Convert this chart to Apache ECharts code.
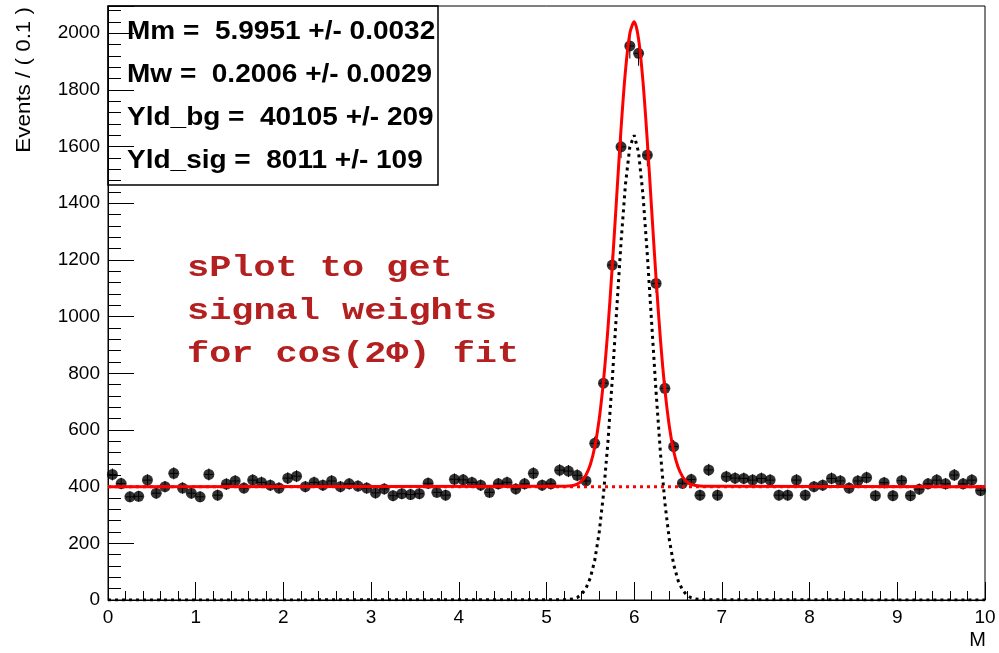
<!DOCTYPE html>
<html>
<head>
<meta charset="utf-8">
<script src="https://cdn.jsdelivr.net/npm/echarts@6/dist/echarts.min.js"></script>
<style>
  html, body { margin: 0; padding: 0; background: #fff; }
  #chart { width: 999px; height: 653px; }
</style>
</head>
<body>
<div id="chart"></div>
<script>
// Histogram of M: 100 bins of width 0.1 between 0 and 10
const xMin = 0;
const xMax = 10;
const binWidth = 0.1;
const counts = [
  443, 411, 364, 366, 423, 377, 400, 447, 395, 377,
  364, 443, 370, 409, 420, 395, 423, 415, 405, 395,
  430, 437, 400, 415, 405, 420, 400, 410, 402, 395,
  378, 392, 368, 375, 372, 375, 412, 380, 370, 426,
  424, 415, 405, 380, 410, 415, 392, 410, 447, 405,
  410, 458, 455, 440, 420, 553, 765, 1182, 1599, 1955,
  1929, 1570, 1117, 747, 541, 412, 425, 370, 459, 370,
  435, 430, 429, 423, 429, 423, 370, 370, 423, 370,
  400, 405, 429, 420, 395, 420, 432, 368, 414, 368,
  421, 368, 391, 410, 423, 410, 441, 410, 423, 386
];

// Fitted model read at sample points across the peak
const curveX = [
  5.20, 5.25, 5.30, 5.35, 5.40, 5.45, 5.50, 5.55, 5.60, 5.65,
  5.70, 5.75, 5.80, 5.85, 5.90, 5.95, 6.00, 6.05, 6.10, 6.15,
  6.20, 6.25, 6.30, 6.35, 6.40, 6.45, 6.50, 6.55, 6.60, 6.65,
  6.70, 6.75, 6.80
];
const signalCurve = [
  1, 2, 4, 9, 20, 41, 78, 140, 236, 374,
  556, 778, 1022, 1263, 1466, 1599, 1640, 1579, 1430, 1217,
  973, 731, 516, 343, 214, 125, 69, 36, 17, 8,
  4, 2, 1
];
const backgroundLevel = 400;

// Fit parameters shown in the box
const paramLines = [
  'Mm =  5.9951 +/- 0.0032',
  'Mw =  0.2006 +/- 0.0029',
  'Yld_bg =  40105 +/- 209',
  'Yld_sig =  8011 +/- 109'
];
const noteLines = ['sPlot to get', 'signal weights', 'for cos(2\u03A6) fit'];

const yMax = 2096;

// ---- derived series ----
const points = counts.map((c, i) => [+(xMin + (i + 0.5) * binWidth).toFixed(2), c, Math.sqrt(c)]);
const sigLine = [[xMin, 0]].concat(curveX.map((x, i) => [x, signalCurve[i]]), [[xMax, 0]]);
const totLine = [[xMin, backgroundLevel]].concat(
  curveX.map((x, i) => [x, backgroundLevel + signalCurve[i]]), [[xMax, backgroundLevel]]);
const bgLine = [[xMin, backgroundLevel], [xMax, backgroundLevel]];

const chart = echarts.init(document.getElementById('chart'), null, { renderer: 'canvas' });

const labelFont = { fontFamily: 'Liberation Sans', fontSize: 19, color: '#000', formatter: v => String(v) };

const graphics = [
  {
    type: 'rect', z: 100,
    shape: { x: 108, y: 6, width: 330, height: 179 },
    style: { fill: 'none', stroke: '#000', lineWidth: 1.5 }
  },
  {
    type: 'text', z: 100, x: 24, y: 7, rotation: Math.PI / 2, scaleX: 1.12,
    style: {
      text: 'Events / ( 0.1 )', x: 0, y: 0, align: 'right', verticalAlign: 'middle',
      font: '20px "Liberation Sans"', fill: '#000'
    }
  },
  {
    type: 'text', z: 100, x: 986, y: 640,
    style: {
      text: 'M', x: 0, y: 0, align: 'right', verticalAlign: 'middle',
      font: '20px "Liberation Sans"', fill: '#000'
    }
  }
];
paramLines.forEach((t, i) => {
  graphics.push({
    type: 'text', z: 101, x: 127, y: 32 + i * 43, scaleX: 1.12,
    style: {
      text: t, x: 0, y: 0, align: 'left', verticalAlign: 'middle',
      font: 'bold 25px "Liberation Sans"', fill: '#000'
    }
  });
});
noteLines.forEach((t, i) => {
  graphics.push({
    type: 'text', z: 101, x: 187, y: 268 + i * 43, scaleX: 1.23,
    style: {
      text: t, x: 0, y: 0, align: 'left', verticalAlign: 'middle',
      font: 'bold 30px "Liberation Mono"', fill: '#b42020'
    }
  });
});

chart.setOption({
  animation: false,
  backgroundColor: '#fff',
  grid: {
    left: 108, right: 14, top: 6, bottom: 53,
    show: true, borderColor: '#000', borderWidth: 1, backgroundColor: 'transparent'
  },
  xAxis: {
    type: 'value', min: xMin, max: xMax, interval: 1,
    axisLine: { show: true, lineStyle: { color: '#000', width: 1 } },
    axisTick: { show: true, inside: true, length: 18, lineStyle: { color: '#000' } },
    minorTick: { show: true, splitNumber: 5, length: 9, lineStyle: { color: '#000' } },
    axisLabel: Object.assign({ margin: 8 }, labelFont),
    splitLine: { show: false }
  },
  yAxis: {
    type: 'value', min: 0, max: yMax, interval: 200,
    axisLine: { show: true, lineStyle: { color: '#000', width: 1 } },
    axisTick: { show: true, inside: true, length: 26, lineStyle: { color: '#000' } },
    minorTick: { show: true, splitNumber: 5, length: 13, lineStyle: { color: '#000' } },
    axisLabel: Object.assign({ margin: 8, showMaxLabel: false }, labelFont),
    splitLine: { show: false }
  },
  graphic: graphics,
  series: [
    {
      type: 'custom', z: 2,
      data: points,
      renderItem: function (params, api) {
        const x = api.value(0), y = api.value(1), e = api.value(2);
        const top = api.coord([x, y + e]);
        const bot = api.coord([x, Math.max(0, y - e)]);
        const l = api.coord([x - binWidth / 2, y]);
        const r = api.coord([x + binWidth / 2, y]);
        return {
          type: 'group',
          children: [
            { type: 'line', shape: { x1: top[0], y1: top[1], x2: bot[0], y2: bot[1] }, style: { stroke: '#000', lineWidth: 1 } },
            { type: 'line', shape: { x1: l[0], y1: l[1], x2: r[0], y2: r[1] }, style: { stroke: '#000', lineWidth: 1 } }
          ]
        };
      }
    },
    {
      type: 'scatter', z: 3,
      data: points.map(p => [p[0], p[1]]),
      symbol: 'circle', symbolSize: 11,
      itemStyle: { color: '#000' }
    },
    {
      type: 'line', z: 4, data: bgLine, symbol: 'none',
      lineStyle: { color: '#ff0000', width: 3, type: [3, 4] }
    },
    {
      type: 'line', z: 4, data: sigLine, symbol: 'none',
      lineStyle: { color: '#000', width: 3, type: [3, 4] }
    },
    {
      type: 'line', z: 5, data: totLine, symbol: 'none', smooth: 0.3,
      lineStyle: { color: '#ff0000', width: 3 }
    }
  ]
});
</script>
</body>
</html>
